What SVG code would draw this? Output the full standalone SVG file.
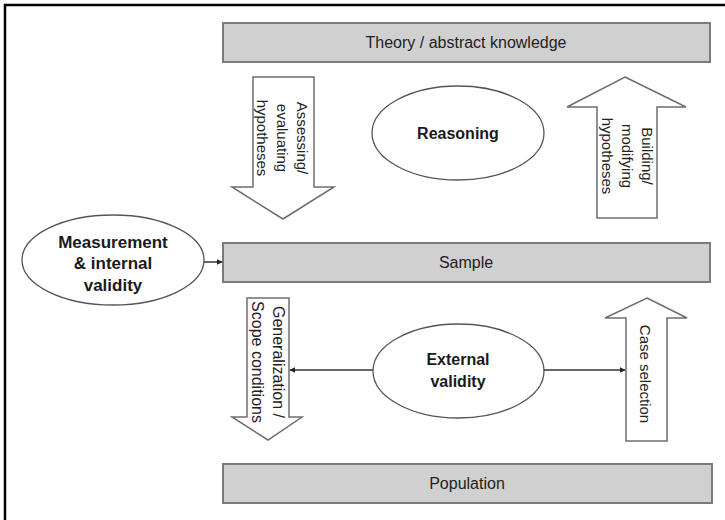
<svg xmlns="http://www.w3.org/2000/svg" width="725" height="520" viewBox="0 0 725 520">
<style>
.box{fill:#d0d0d0;stroke:#7a7a7a;stroke-width:2}
.arr{fill:#ffffff;stroke:#6e6e6e;stroke-width:1.5;stroke-linejoin:miter}
.ell{fill:#ffffff;stroke:#555555;stroke-width:1.3}
.t{font-family:"Liberation Sans",Arial,sans-serif;font-size:16px;fill:#222222;text-anchor:middle}
.v{font-family:"Liberation Sans",Arial,sans-serif;font-size:15px;fill:#222222;text-anchor:middle}
.b{font-family:"Liberation Sans",Arial,sans-serif;font-size:16px;font-weight:bold;fill:#1a1a1a;text-anchor:middle}
.con{stroke:#333333;stroke-width:1.5;fill:none}
</style>
<defs>
<marker id="ah" viewBox="0 0 10 10" refX="9" refY="5" markerWidth="6" markerHeight="6" markerUnits="userSpaceOnUse" orient="auto">
<path d="M0,0 L10,5 L0,10 z" fill="#222222"/>
</marker>
</defs>
<rect x="0" y="0" width="725" height="520" fill="#ffffff"/>
<path d="M5,520 L5,5 L725,5" fill="none" stroke="#000000" stroke-width="2.5"/>

<g id="theory">
<rect class="box" x="223" y="23" width="487" height="39"/>
<text class="t" x="466" y="48">Theory / abstract knowledge</text>
</g>
<g id="sample">
<rect class="box" x="223" y="243" width="487" height="39"/>
<text class="t" x="466" y="268">Sample</text>
</g>
<g id="population">
<rect class="box" x="223" y="464" width="489" height="39"/>
<text class="t" x="467" y="489">Population</text>
</g>

<g id="assessing">
<path class="arr" d="M253,77 L314,77 L314,187 L334,187 L283,219 L232,187 L253,187 Z"/>
<g transform="rotate(90 282 138)">
<text class="v" x="282" y="123">Assessing/</text>
<text class="v" x="282" y="143">evaluating</text>
<text class="v" x="282" y="163">hypotheses</text>
</g>
</g>

<g id="building">
<path class="arr" d="M625,77 L686,107 L657,107 L657,218 L597,218 L597,107 L567,107 Z"/>
<g transform="rotate(90 627 156)">
<text class="v" x="627" y="141">Building/</text>
<text class="v" x="627" y="161">modifying</text>
<text class="v" x="627" y="181">hypotheses</text>
</g>
</g>

<g id="reasoning">
<ellipse class="ell" cx="458" cy="133" rx="86" ry="47"/>
<text class="b" x="458" y="139">Reasoning</text>
</g>

<g id="measurement">
<ellipse class="ell" cx="113" cy="260" rx="91" ry="45"/>
<text class="b" x="113" y="248" style="font-size:17px">Measurement</text>
<text class="b" x="113" y="269" style="font-size:17px">&amp; internal</text>
<text class="b" x="113" y="291" style="font-size:17px">validity</text>
</g>

<g id="generalization">
<path class="arr" d="M247,298 L289,298 L289,417 L302,417 L268,440 L232,417 L247,417 Z"/>
<g transform="rotate(90 268 362)">
<text class="t" x="268" y="357">Generalization /</text>
<text class="t" x="268" y="378">Scope conditions</text>
</g>
</g>

<g id="case-selection">
<path class="arr" d="M647,298 L687,318 L667,318 L667,441 L626,441 L626,318 L605,318 Z"/>
<g transform="rotate(90 645 374)">
<text class="v" x="645" y="379">Case selection</text>
</g>
</g>

<g id="external">
<ellipse class="ell" cx="458.5" cy="371" rx="85.5" ry="47"/>
<text class="b" x="458" y="365">External</text>
<text class="b" x="458" y="387">validity</text>
</g>

<g id="connectors">
<line class="con" x1="204" y1="262" x2="222" y2="262" marker-end="url(#ah)"/>
<line class="con" x1="373" y1="370" x2="290" y2="370" marker-end="url(#ah)"/>
<line class="con" x1="544" y1="370" x2="625" y2="370" marker-end="url(#ah)"/>
</g>
</svg>
